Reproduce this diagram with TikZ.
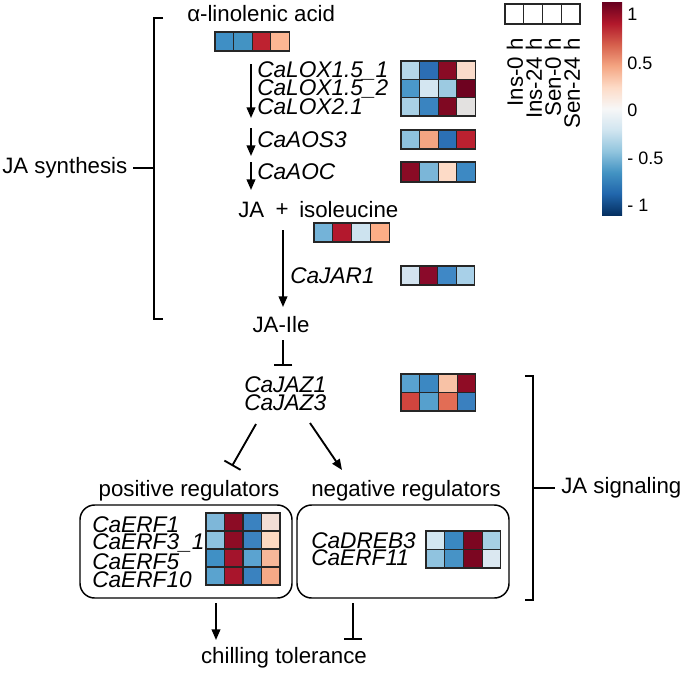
\documentclass[tikz,border=0pt]{standalone}
\usepackage{fontspec}
\setmainfont{Liberation Sans}
\usetikzlibrary{arrows.meta}
\newcommand\hmrow[5]{%
  \foreach \cc [count=\ii from 0] in {#5} {%
    \edef\tmpdef{\noexpand\definecolor{hmtmp}{HTML}{\cc}}\tmpdef
    \filldraw[fill=hmtmp, draw=black!85, line width=0.9pt] ({#1+\ii*#3},{#2}) rectangle ++(#3,#4);
  }}
\definecolor{cb0}{HTML}{053061}
\definecolor{cb1}{HTML}{2166AC}
\definecolor{cb2}{HTML}{4393C3}
\definecolor{cb3}{HTML}{92C5DE}
\definecolor{cb4}{HTML}{D1E5F0}
\definecolor{cb5}{HTML}{F7F7F7}
\definecolor{cb6}{HTML}{FDDBC7}
\definecolor{cb7}{HTML}{F4A582}
\definecolor{cb8}{HTML}{D6604D}
\definecolor{cb9}{HTML}{B2182B}
\definecolor{cb10}{HTML}{67001F}
\pgfdeclareverticalshading{rdbu}{100bp}{color(0bp)=(cb0); color(25bp)=(cb0); color(30bp)=(cb1); color(35bp)=(cb2); color(40bp)=(cb3); color(45bp)=(cb4); color(50bp)=(cb5); color(55bp)=(cb6); color(60bp)=(cb7); color(65bp)=(cb8); color(70bp)=(cb9); color(75bp)=(cb10); color(100bp)=(cb10)}
\tikzset{
  txt/.style={font=\fontsize{16.7}{19}\selectfont, inner sep=0pt},
  gene/.style={txt, font=\fontsize{17}{19}\selectfont\itshape},
  cbl/.style={font=\fontsize{13.5}{15}\selectfont, inner sep=0pt, anchor=west},
  act/.style={line width=1.4pt, -{Triangle[length=8pt,width=6.5pt]}},
  inh/.style={line width=1.4pt, -{Bar[width=14pt,line width=1.4pt]}},
  brk/.style={line width=1.8pt},
  regbox/.style={draw, line width=1.1pt, rounded corners=11pt},
}
\begin{document}
\begin{tikzpicture}[x=0.75pt,y=-0.75pt]
\useasboundingbox (0,0) rectangle (685,672);

% texts
\node[txt, anchor=west] (ala) at (187,14) {α-linolenic acid};
\node[gene, anchor=west] (lox1) at (257,71) {CaLOX1.5\_1};
\node[gene, anchor=west] (lox2) at (257,89) {CaLOX1.5\_2};
\node[gene, anchor=west] (lox3) at (257,107) {CaLOX2.1};
\node[gene, anchor=west] (aos) at (257,140) {CaAOS3};
\node[gene, anchor=west] (aoc) at (257,172) {CaAOC};
\node[txt, anchor=west] (ja) at (238,210) {JA};
\node[txt] (plus) at (282,210) {+};
\node[txt, anchor=west] (ile) at (299,210) {isoleucine};
\node[gene, anchor=west] (jar) at (290,276) {CaJAR1};
\node[txt] (jaile) at (281,325) {JA-Ile};
\node[gene, anchor=west] (jaz1) at (244,385) {CaJAZ1};
\node[gene, anchor=west] (jaz3) at (244,403) {CaJAZ3};
\node[txt] (posl) at (189,491) {positive regulators};
\node[txt] (negl) at (406,491) {negative regulators};
\node[gene, anchor=west] (erf1) at (92,525) {CaERF1};
\node[gene, anchor=west] (erf3) at (92,543) {CaERF3\_1};
\node[gene, anchor=west] (erf5) at (92,562) {CaERF5};
\node[gene, anchor=west] (erf10) at (92,580) {CaERF10};
\node[gene, anchor=west] (dreb) at (311,541) {CaDREB3};
\node[gene, anchor=west] (erf11) at (311,558) {CaERF11};
\node[txt] (chill) at (284,658) {chilling tolerance};
\node[txt, anchor=west] (jasyn) at (2,168) {JA synthesis};
\node[txt, anchor=west] (jasig) at (561,488) {JA signaling};

% legend
\hmrow{505}{4}{18.75}{20}{FFFFFF,FFFFFF,FFFFFF,FFFFFF}
\node[txt, rotate=90, anchor=east] (l1) at (515,38) {Ins-0 h};
\node[txt, rotate=90, anchor=east] (l2) at (534,38) {Ins-24 h};
\node[txt, rotate=90, anchor=east] (l3) at (553,38) {Sen-0 h};
\node[txt, rotate=90, anchor=east] (l4) at (572,38) {Sen-24 h};
\shade[shading=rdbu] (602,2) rectangle (622,215);
\node[cbl] (t1) at (627,14) {1};
\node[cbl] (t2) at (627,63) {0.5};
\node[cbl] (t3) at (627,110) {0};
\node[cbl] (t4) at (627,158) {- 0.5};
\node[cbl] (t5) at (627,205) {- 1};

% heatmaps
\hmrow{215}{32}{18.6}{19}{3F8FC5,4393C3,BE2230,FCB693}
\hmrow{401}{61}{18.6}{18.3}{B5D7E9,2C6EB4,8A0B25,FADBCA}
\hmrow{401}{79.3}{18.6}{18.3}{4A98C9,D4E6F1,9CCAE1,6E0220}
\hmrow{401}{97.6}{18.6}{18.3}{A9D1E6,3A84C0,7F0822,E3E1E0}
\hmrow{401}{130}{18.6}{19}{8EC2DE,F4A582,2C70B5,BB2130}
\hmrow{401}{162}{18.6}{20}{8A0B25,7BB6D8,FDDBC7,3D89C3}
\hmrow{314}{223}{18.8}{19}{74B3D8,B3182D,CDE3EF,FDAE87}
\hmrow{401}{266}{18.4}{19}{D3E3EF,8A0A2A,3F88C6,A8D0E8}
\hmrow{401}{374}{18.7}{18.5}{59A2CF,3C88C2,F8C2A6,8F0C25}
\hmrow{401}{392.5}{18.7}{18.5}{D1453E,56A0CD,E26D55,3A80BF}
\hmrow{206}{513}{18.5}{18}{7EB7D9,8C0C25,3A82C0,F2DED5}
\hmrow{206}{531}{18.5}{18}{8EC3DF,8E0C25,3C82BF,FCD9C3}
\hmrow{206}{549}{18.5}{18}{4090C5,A3142C,5BA3D0,F7B799}
\hmrow{206}{567}{18.5}{18}{5AA3CF,A9152C,3A82BF,F5A987}
\hmrow{426}{531}{18.7}{18.5}{D2E6F1,3A88C2,7C0621,A6CFE4}
\hmrow{426}{549.5}{18.7}{18.5}{90C3DF,4793C6,7B0621,DBE8F1}

% boxes
\draw[regbox] (80,505) rectangle (292,598);
\draw[regbox] (297,505) rectangle (509,598);

% brackets
\draw[brk] (163,18) -- (154,18) -- (154,319) -- (163,319);
\coordinate (synm) at (154,168);
\coordinate (synl) at (133,168);
\draw[brk] (synl) -- (synm);
\draw[brk] (525,376) -- (533,376) -- (533,600) -- (525,600);
\coordinate (sigm) at (533,488);
\coordinate (sigr) at (555,488);
\draw[brk] (sigm) -- (sigr);

% connectors
\coordinate (a1s) at (251,64);  \coordinate (a1e) at (251,118);
\coordinate (a2s) at (251,128); \coordinate (a2e) at (251,156);
\coordinate (a3s) at (251,162); \coordinate (a3e) at (251,190);
\coordinate (a4s) at (283,230); \coordinate (a4e) at (283,307);
\coordinate (i1s) at (283,340); \coordinate (i1e) at (283,366);
\coordinate (i2s) at (256,424); \coordinate (i2e) at (232,466);
\coordinate (a5s) at (310,423); \coordinate (a5e) at (342,470);
\coordinate (a6s) at (216,603); \coordinate (a6e) at (216,640);
\coordinate (i3s) at (353,603); \coordinate (i3e) at (353,640);
\draw[act] (a1s) -- (a1e);
\draw[act] (a2s) -- (a2e);
\draw[act] (a3s) -- (a3e);
\draw[act] (a4s) -- (a4e);
\draw[inh] (i1s) -- (i1e);
\draw[inh] (i2s) -- (i2e);
\draw[act] (a5s) -- (a5e);
\draw[act] (a6s) -- (a6e);
\draw[inh] (i3s) -- (i3e);
\end{tikzpicture}
\end{document}
